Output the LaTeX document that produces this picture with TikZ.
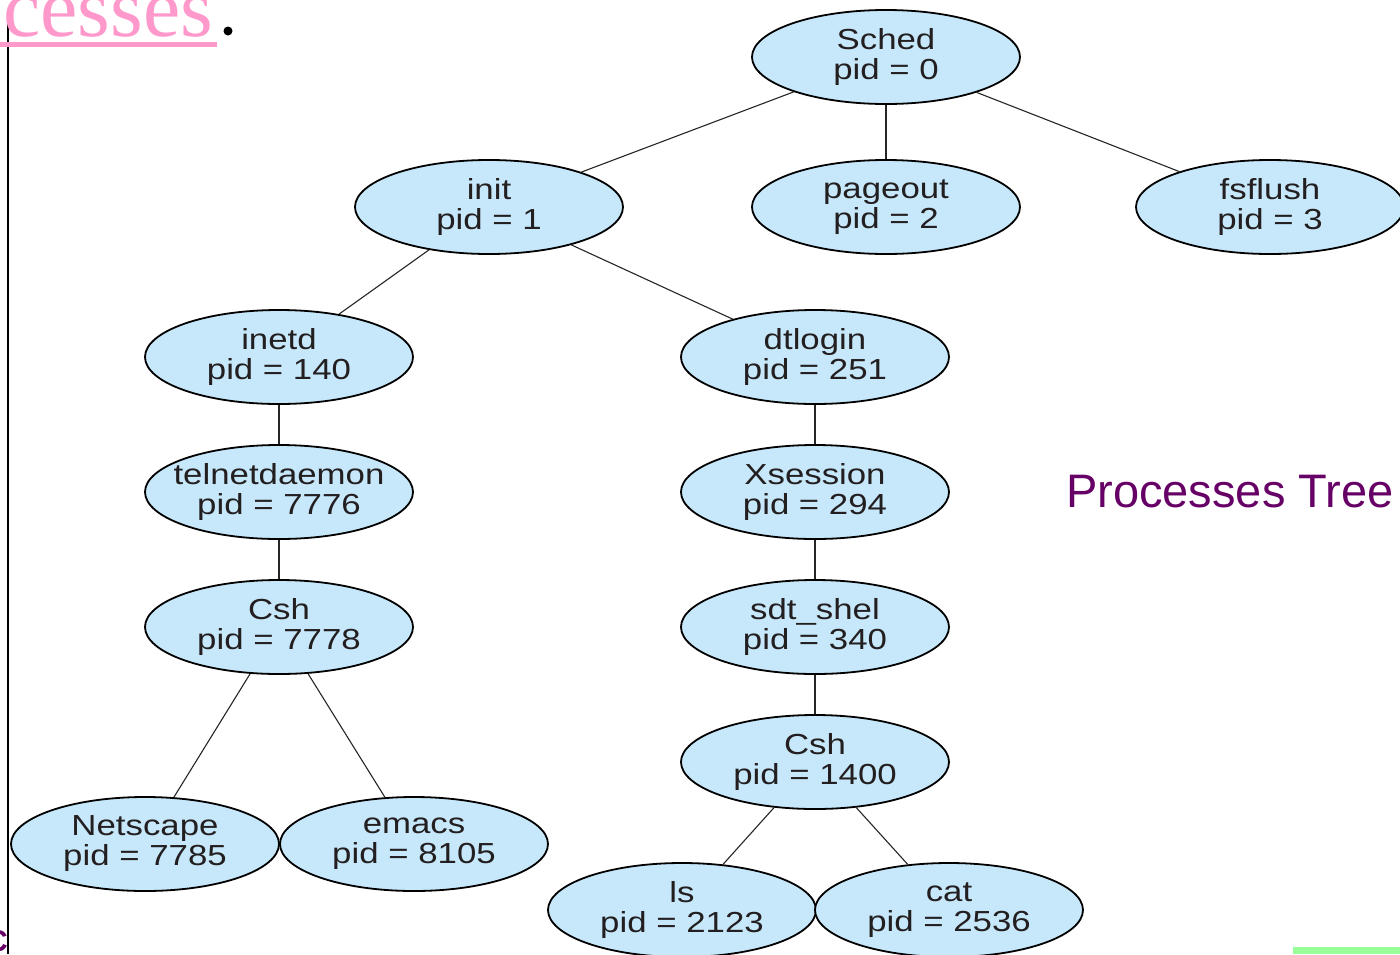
\documentclass[tikz,border=0pt]{standalone}
\usepackage{fontspec}
\setmainfont{Liberation Sans}
\newfontfamily\nodefont{Liberation Sans}[FakeStretch=1.2]
\newfontfamily\seriffont{Liberation Serif}
\usetikzlibrary{shapes.geometric}
\definecolor{nodefill}{RGB}{199,232,250}
\definecolor{nodetext}{RGB}{35,31,32}
\definecolor{titlepurple}{RGB}{102,0,102}
\definecolor{linkpink}{RGB}{255,153,204}
\definecolor{barGreen}{RGB}{153,255,153}
\tikzset{
  proc/.style={ellipse, draw=black, line width=1.8pt, fill=nodefill,
    minimum width=268pt, minimum height=94pt, inner xsep=-40pt, inner ysep=-8pt,
    align=center, text=nodetext, font=\nodefont\fontsize{29}{30}\selectfont},
  link/.style={draw=black!85, line width=1.1pt}
}
\begin{document}
\begin{tikzpicture}[x=1pt,y=-1pt]
\useasboundingbox (0,0) rectangle (1400,954);
\clip (0,0) rectangle (1400,954);
\fill[white] (0,0) rectangle (1400,954);
% slide remnants
\draw[black, line width=1.8pt] (8,22) -- (8,954);
\fill[linkpink] (0,42) rectangle (217,47);
\node[anchor=base west, inner sep=0, text=linkpink, font=\seriffont\fontsize{84}{84}\selectfont] (cesses) at (3,36) {cesses};
\fill[black] (228,31) circle (4.5pt);
\node[anchor=base east, inner sep=0, text=titlepurple, font=\bfseries\fontsize{30}{30}\selectfont] (cpart) at (8,951) {C};
\fill[barGreen] (1293,947) rectangle (1400,954);
% nodes
\node[proc] (sched) at (886,57) {Sched\\pid = 0};
\node[proc] (init) at (489,207) {init\\pid = 1};
\node[proc] (pageout) at (886,207) {pageout\\pid = 2};
\node[proc] (fsflush) at (1270,207) {fsflush\\pid = 3};
\node[proc] (inetd) at (279,357) {inetd\\pid = 140};
\node[proc] (dtlogin) at (815,357) {dtlogin\\pid = 251};
\node[proc] (telnet) at (279,492) {telnetdaemon\\pid = 7776};
\node[proc] (xsession) at (815,492) {Xsession\\pid = 294};
\node[proc] (cshA) at (279,627) {Csh\\pid = 7778};
\node[proc] (sdt) at (815,627) {sdt\_shel\\pid = 340};
\node[proc] (cshB) at (815,762) {Csh\\pid = 1400};
\node[proc] (netscape) at (145,844) {Netscape\\pid = 7785};
\node[proc] (emacs) at (414,844) {emacs\\pid = 8105};
\node[proc] (ls) at (682,910) {ls\\pid = 2123};
\node[proc] (cat) at (949,910) {cat\\pid = 2536};
% connectors
\draw[link] (sched) -- (init);
\draw[link] (sched) -- (pageout);
\draw[link] (sched) -- (fsflush);
\draw[link] (init) -- (inetd);
\draw[link] (init) -- (dtlogin);
\draw[link] (inetd) -- (telnet);
\draw[link] (telnet) -- (cshA);
\draw[link] (cshA) -- (netscape);
\draw[link] (cshA) -- (emacs);
\draw[link] (dtlogin) -- (xsession);
\draw[link] (xsession) -- (sdt);
\draw[link] (sdt) -- (cshB);
\draw[link] (cshB) -- (ls);
\draw[link] (cshB) -- (cat);
% title
\node[anchor=base west, inner sep=0, text=titlepurple, font=\fontsize{47}{47}\selectfont] (title) at (1066,507) {Processes Tree};
\end{tikzpicture}
\end{document}
